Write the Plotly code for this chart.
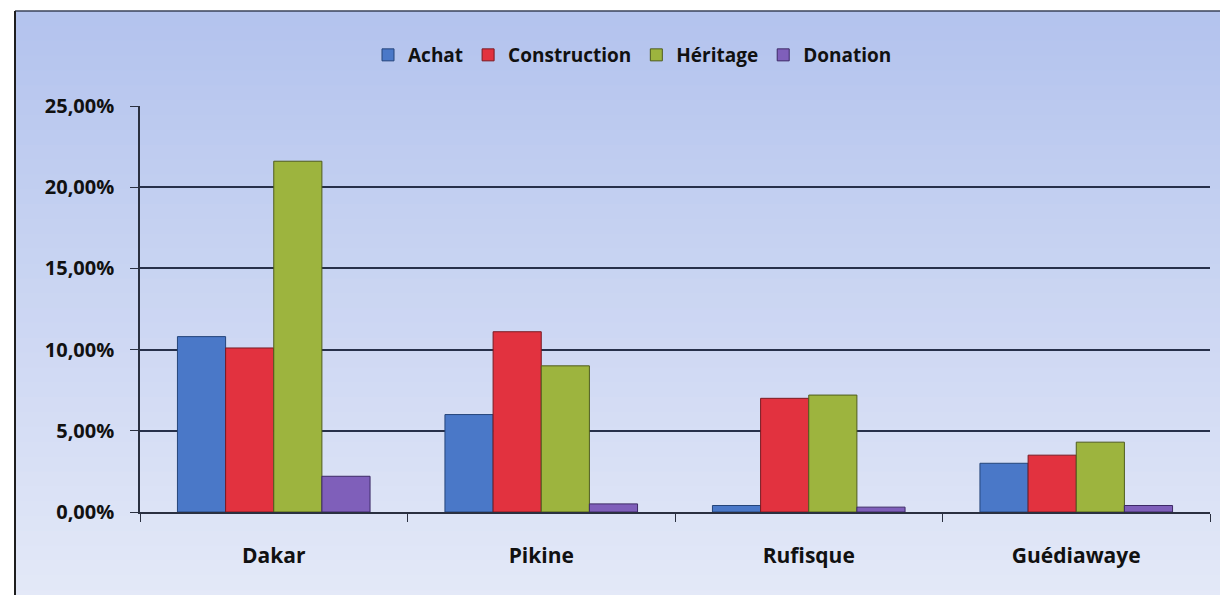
import plotly.graph_objects as go

categories = ["Dakar", "Pikine", "Rufisque", "Guédiawaye"]
achat = [10.8, 6.0, 0.4, 3.0]
construction = [10.1, 11.1, 7.0, 3.5]
heritage = [21.6, 9.0, 7.2, 4.3]
donation = [2.2, 0.5, 0.3, 0.4]
series_names = ["Achat", "Construction", "Héritage", "Donation"]
colors = ["#4a78c8", "#e2323f", "#9db43e", "#7f5fba"]
edge_colors = ["#25457a", "#7a1a22", "#4f5c1c", "#3d2a66"]

W, H = 1228, 595
OFF = 8  # page body margin offset
L, T, R, B = 132, 98, 26, 91
PW = W - L - R
PH = H - T - B


def px_to_paper_x(sx):
    return (sx - OFF - L) / PW


def px_to_paper_y(sy):
    return 1 - (sy - OFF - T) / PH


fig = go.Figure()
for name, vals, c, ec in zip(series_names, [achat, construction, heritage, donation], colors, edge_colors):
    fig.add_trace(go.Bar(x=categories, y=vals, name=name,
                         marker=dict(color=c, line=dict(color=ec, width=1))))

shapes = []
fx0 = px_to_paper_x(15)
fx1 = px_to_paper_x(1240)
n = 40
top_rgb = (180, 196, 238)
bot_rgb = (228, 233, 248)
sy_top, sy_bot = 11, 605
for i in range(n):
    t = i / (n - 1)
    r = int(top_rgb[0] + (bot_rgb[0] - top_rgb[0]) * t)
    g = int(top_rgb[1] + (bot_rgb[1] - top_rgb[1]) * t)
    b = int(top_rgb[2] + (bot_rgb[2] - top_rgb[2]) * t)
    ya = sy_top + (sy_bot - sy_top) * i / n
    yb = sy_top + (sy_bot - sy_top) * (i + 1) / n + 1
    shapes.append(dict(type="rect", xref="paper", yref="paper", x0=fx0, x1=fx1,
                       y0=px_to_paper_y(yb), y1=px_to_paper_y(ya),
                       fillcolor=f"rgb({r},{g},{b})", line=dict(width=0), layer="below"))
shapes.append(dict(type="line", xref="paper", yref="paper", x0=fx0, x1=fx1,
                   y0=px_to_paper_y(11), y1=px_to_paper_y(11),
                   line=dict(color="#3a4358", width=1.5), layer="below"))
shapes.append(dict(type="line", xref="paper", yref="paper", x0=fx0, x1=fx0,
                   y0=px_to_paper_y(605), y1=px_to_paper_y(11),
                   line=dict(color="#1e1e1e", width=2), layer="below"))

font_fam = "Open Sans, Liberation Sans, sans-serif"
fig.update_layout(
    width=W, height=H,
    paper_bgcolor="white",
    plot_bgcolor="rgba(0,0,0,0)",
    margin=dict(l=L, r=R, t=T, b=B),
    barmode="group", bargap=0.28, bargroupgap=0,
    separators=", ",
    shapes=shapes,
    showlegend=True,
    legend=dict(orientation="h", x=px_to_paper_x(368), xanchor="left", y=px_to_paper_y(55), yanchor="middle",
                font=dict(family=font_fam, size=19, color="#111", weight="bold"),
                bgcolor="rgba(0,0,0,0)", itemwidth=30, traceorder="normal"),
    font=dict(family=font_fam, size=19, color="#111"),
    xaxis=dict(showline=True, linecolor="#2a3040", linewidth=1.5, ticks="outside", tickson="boundaries",
               ticklen=8, tickcolor="#2a3040", ticklabelstandoff=24,
               tickfont=dict(family=font_fam, size=21, color="#111", weight="bold")),
    yaxis=dict(range=[0, 25], dtick=5, tickformat=".2f", ticksuffix="%", showgrid=True,
               gridcolor="#27304a", gridwidth=1.6, showline=True, linecolor="#2a3040", linewidth=1.5,
               ticks="outside", ticklen=8, tickcolor="#2a3040", zeroline=False, ticklabelstandoff=12,
               tickfont=dict(family=font_fam, size=20, color="#111", weight="bold")),
)
fig.write_html("out.html")
